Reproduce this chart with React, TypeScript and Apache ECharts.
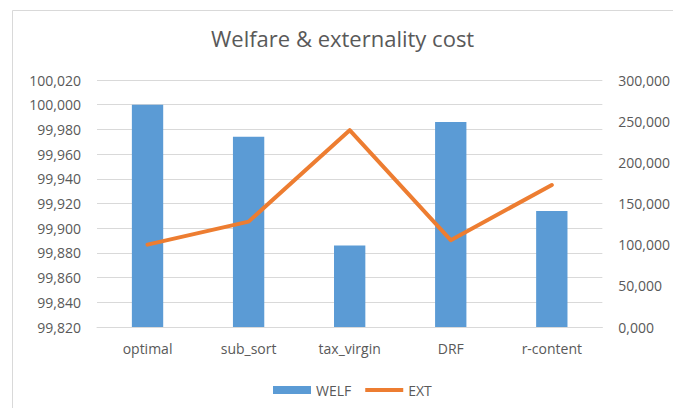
import React, { useEffect, useRef } from "react";
import * as echarts from "echarts";

const categories = ["optimal", "sub_sort", "tax_virgin", "DRF", "r-content"];
const welf = [100000, 99974, 99886, 99986, 99914];
const ext = [100000, 128000, 239000, 105500, 172500];

const fmt = (v: number) => (v / 1000).toFixed(3).replace(".", ",");

export default function App() {
  const ref = useRef<HTMLDivElement>(null);
  useEffect(() => {
    if (!ref.current) return;
    const chart = echarts.init(ref.current, undefined, { renderer: "svg" });
    const font = "'Open Sans', 'Liberation Sans', sans-serif";
    chart.setOption({
      animation: false,
      backgroundColor: "#ffffff",
      textStyle: { fontFamily: font },
      title: {
        text: "Welfare & externality cost",
        left: 211,
        top: 27,
        padding: 0,
        textStyle: { fontSize: 22, fontWeight: "normal", color: "#595959", fontFamily: font },
      },
      graphic: [
        {
          type: "rect",
          shape: { x: 12.5, y: 10.5, width: 700, height: 450 },
          style: { fill: "none", stroke: "#d9d9d9", lineWidth: 1 },
          silent: true,
        },
      ],
      legend: {
        bottom: 11,
        left: 273,
        padding: 0,
        itemWidth: 38,
        itemHeight: 8,
        itemGap: 14,
        textStyle: { color: "#595959", fontSize: 14, fontFamily: font },
        data: [
          { name: "WELF", icon: "rect" },
          { name: "EXT", icon: "path://M0,0 L40,0 L40,4 L0,4 Z" },
        ],
      },
      grid: { left: 97, right: 70, top: 80, bottom: 81 },
      xAxis: {
        type: "category",
        data: categories,
        axisLine: { lineStyle: { color: "#d9d9d9" } },
        axisTick: { show: false },
        axisLabel: { color: "#595959", fontSize: 14, margin: 14, fontFamily: font },
      },
      yAxis: [
        {
          type: "value",
          min: 99820,
          max: 100020,
          interval: 20,
          axisLine: { show: false },
          axisTick: { show: false },
          splitLine: { lineStyle: { color: "#d9d9d9" } },
          axisLabel: { color: "#595959", fontSize: 14, margin: 16, formatter: fmt, fontFamily: font },
        },
        {
          type: "value",
          min: 0,
          max: 300000,
          interval: 50000,
          position: "right",
          axisLine: { show: false },
          axisTick: { show: false },
          splitLine: { show: false },
          axisLabel: { color: "#595959", fontSize: 14, margin: 16, formatter: fmt, fontFamily: font },
        },
      ],
      series: [
        {
          name: "WELF",
          type: "bar",
          data: welf,
          barWidth: "31%",
          itemStyle: { color: "#5B9BD5" },
          yAxisIndex: 0,
        },
        {
          name: "EXT",
          type: "line",
          data: ext,
          yAxisIndex: 1,
          symbol: "none",
          lineStyle: { color: "#ED7D31", width: 4, cap: "round", join: "round" },
          itemStyle: { color: "#ED7D31" },
        },
      ],
    });
    return () => chart.dispose();
  }, []);
  return (
    <div style={{ position: "fixed", left: 0, top: 0, width: 673, height: 408, background: "#fff" }}>
      <div ref={ref} style={{ width: 673, height: 408 }} />
    </div>
  );
}
